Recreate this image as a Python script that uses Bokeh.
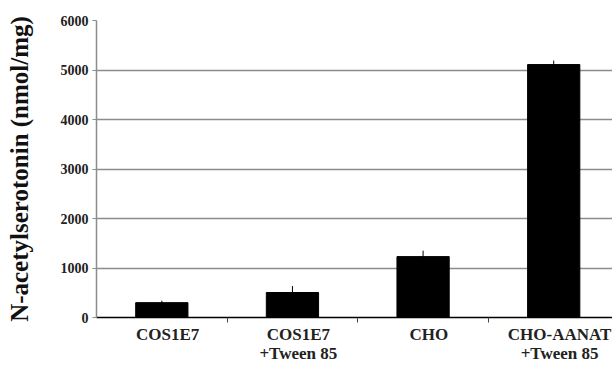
from bokeh.plotting import figure
from bokeh.models import Range1d, FixedTicker, LinearAxis, ColumnDataSource
from bokeh.embed import file_html
from bokeh.resources import INLINE
import numpy as np

categories = ["COS1E7", "COS1E7\n+Tween 85", "CHO", "CHO-AANAT\n+Tween 85"]
values = [300, 505, 1230, 5110]
errors = [40, 130, 120, 80]
y_ticks = [0, 1000, 2000, 3000, 4000, 5000, 6000]

FONT = "Liberation Serif"
x = np.arange(len(categories)) + 0.5
values = np.array(values)
errors = np.array(errors)

src = ColumnDataSource(dict(x=x, top=values, lo=values - errors, hi=values + errors))

p = figure(width=612, height=366, output_backend="svg", toolbar_location=None,
           x_range=Range1d(0, 3.95), y_range=Range1d(0, 6000), x_axis_location=None,
           min_border_left=96, min_border_right=0, min_border_top=20, min_border_bottom=49)
p.outline_line_color = None
p.background_fill_color = "white"

p.vbar(x="x", top="top", bottom=0, width=0.4, color="black", source=src)
p.segment(x0="x", y0="lo", x1="x", y1="hi", line_color="black", line_width=1, source=src)

p.xgrid.visible = False
p.ygrid.ticker = FixedTicker(ticks=y_ticks)
p.ygrid.grid_line_color = "#8c8c8c"
p.ygrid.grid_line_width = 1.5

p.yaxis.ticker = FixedTicker(ticks=y_ticks)
p.yaxis.axis_line_color = "#8c8c8c"
p.yaxis.axis_line_width = 1.5
p.yaxis.major_tick_out = 4
p.yaxis.major_tick_in = 0
p.yaxis.major_tick_line_color = "#8c8c8c"
p.yaxis.minor_tick_line_color = None
p.yaxis.major_label_text_font = FONT
p.yaxis.major_label_text_font_style = "bold"
p.yaxis.major_label_text_font_size = "14px"
p.yaxis.major_label_text_color = "#222222"
p.yaxis.major_label_standoff = 4
p.yaxis.axis_label = "N-acetylserotonin (nmol/mg)"
p.yaxis.axis_label_text_font = FONT
p.yaxis.axis_label_text_font_style = "bold"
p.yaxis.axis_label_text_font_size = "25px"
p.yaxis.axis_label_text_color = "#111111"
p.yaxis.axis_label_standoff = 25

# axis line with category-boundary ticks
ax = LinearAxis(ticker=FixedTicker(ticks=[1, 2, 3]))
ax.major_label_overrides = {1: "", 2: "", 3: ""}
ax.axis_line_color = "black"
ax.axis_line_width = 1.5
ax.major_tick_out = 5
ax.major_tick_in = 0
ax.major_tick_line_color = "#444444"
ax.minor_tick_line_color = None
ax.major_label_text_font_size = "1px"
ax.major_label_standoff = 0
p.add_layout(ax, "below")

# category labels
lab = LinearAxis(ticker=FixedTicker(ticks=list(x + 0.045)))
lab.major_label_overrides = {float(t): c for t, c in zip(x + 0.045, categories)}
lab.axis_line_color = None
lab.major_tick_line_color = None
lab.minor_tick_line_color = None
lab.major_tick_out = 0
lab.major_tick_in = 0
lab.major_label_standoff = 2
lab.major_label_text_font = FONT
lab.major_label_text_font_style = "bold"
lab.major_label_text_font_size = "17px"
lab.major_label_text_color = "#222222"
lab.major_label_text_line_height = 1.0
p.add_layout(lab, "below")

open("out.html", "w").write(file_html(p, INLINE))
